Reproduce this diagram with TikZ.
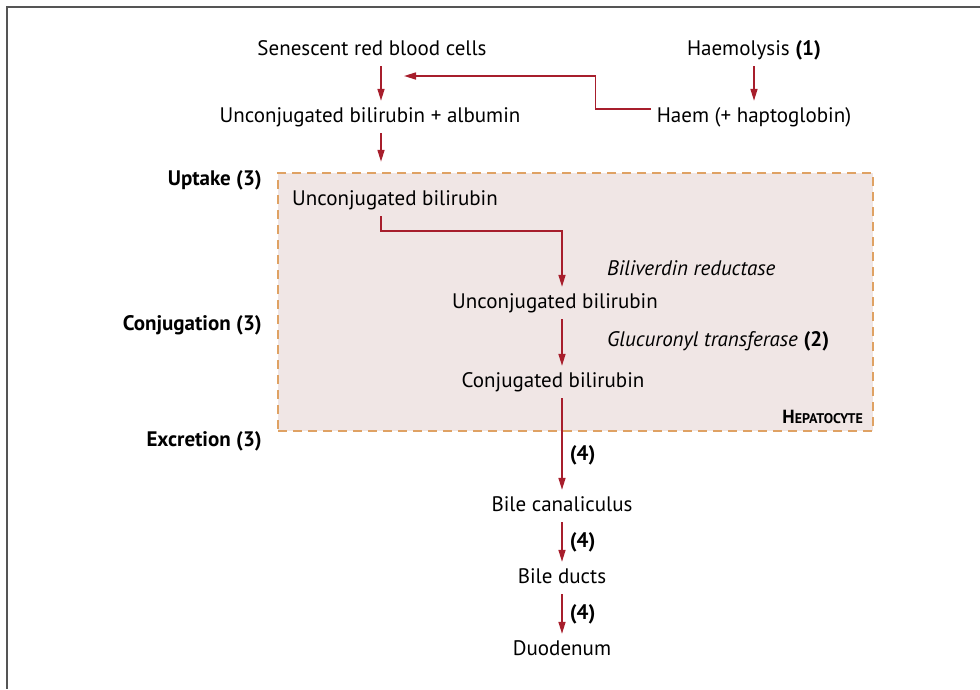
\documentclass[tikz,border=0pt]{standalone}
\usepackage{fontspec}
\setmainfont{PT Sans}
\usetikzlibrary{arrows.meta,positioning,calc}
\definecolor{arrowred}{HTML}{A71E2C}
\definecolor{cellfill}{HTML}{F0E6E5}
\definecolor{cellline}{HTML}{DFA264}
\definecolor{framegray}{HTML}{555555}
\tikzstyle{txt} = [inner xsep=0pt, inner ysep=6pt, text height=15pt, text depth=5pt, font=\fontsize{21}{24}\selectfont]
\tikzstyle{stage} = [txt, anchor=east, font=\fontsize{21}{24}\selectfont\bfseries]
\tikzstyle{enzyme} = [txt, anchor=west, font=\fontsize{21}{24}\selectfont\itshape]
\tikzstyle{cell} = [rectangle, draw=cellline, fill=cellfill, line width=2.5pt, dash pattern=on 9pt off 6pt, minimum width=595pt, minimum height=258pt]
\tikzstyle{arrow} = [draw=arrowred, line width=1.6pt, -{Triangle[length=12pt,width=7pt]}]
\tikzstyle{step4} = [midway, right=7pt, inner sep=0pt, font=\fontsize{21}{24}\selectfont\bfseries]

\begin{document}
\begin{tikzpicture}[x=1pt, y=-1pt]
  \useasboundingbox (0,0) rectangle (980,689);
  \draw[framegray, line width=1.5pt] (980,7) -- (7,7) -- (7,689);
  % liver cell
  \node (hep)[cell] at (575.5,302) {};
  \node (heplbl)[anchor=east, inner sep=0pt] at (863,417) {\bfseries\fontsize{19}{20}\selectfont H\fontsize{14}{15}\selectfont EPATOCYTE};
  % columns of the arrows
  \coordinate (ax1) at (381,0);
  \coordinate (ax2) at (562,0);
  \coordinate (ax3) at (754,0);
  \coordinate (tip) at (404,76);
  % top
  \node (sen)[txt] at (372,50) {Senescent red blood cells};
  \node (haemo)[txt] at (754,50) {Haemolysis \textbf{(1)}};
  \node (ubalb)[txt] at (370,117) {Unconjugated bilirubin + albumin};
  \node (haem)[txt] at (754,117) {Haem (+ haptoglobin)};
  % inside the cell
  \node (ub1)[txt] at (395,200) {Unconjugated bilirubin};
  \node (ub2)[txt] at (555,303) {Unconjugated bilirubin};
  \node (cb)[txt] at (553,382) {Conjugated bilirubin};
  \node (enz1)[enzyme] at (607,270) {Biliverdin reductase};
  \node (enz2)[enzyme] at (607,341) {Glucuronyl transferase \textbf{\upshape(2)}};
  % below
  \node (canal)[txt] at (562,506) {Bile canaliculus};
  \node (ducts)[txt] at (562,578) {Bile ducts};
  \node (duo)[txt] at (562,650) {Duodenum};
  % stages
  \node (up)[stage] at (262,180) {Uptake (3)};
  \node (conj)[stage] at (262,325) {Conjugation (3)};
  \node (excr)[stage] at (262,441) {Excretion (3)};
  % arrows
  \draw[arrow] (sen.south -| ax1) -- (ubalb.north -| ax1);
  \draw[arrow] (haemo.south -| ax3) -- (haem.north -| ax3);
  \draw[arrow] ($(haem.west)+(-6,-8)$) -- ++(-55,0) |- (tip);
  \draw[arrow, shorten >=10pt] (ubalb.south -| ax1) -- (ax1 |- hep.north);
  \draw[arrow] (ub1.south -| ax1) -- ++(0,15) -| (ub2.north -| ax2);
  \draw[arrow] (ub2.south -| ax2) -- (cb.north -| ax2);
  \draw[arrow] (cb.south -| ax2) -- (canal.north -| ax2) node[step4, pos=0.62]{(4)};
  \draw[arrow] (canal.south -| ax2) -- (ducts.north -| ax2) node[step4]{(4)};
  \draw[arrow] (ducts.south -| ax2) -- (duo.north -| ax2) node[step4]{(4)};
\end{tikzpicture}
\end{document}
